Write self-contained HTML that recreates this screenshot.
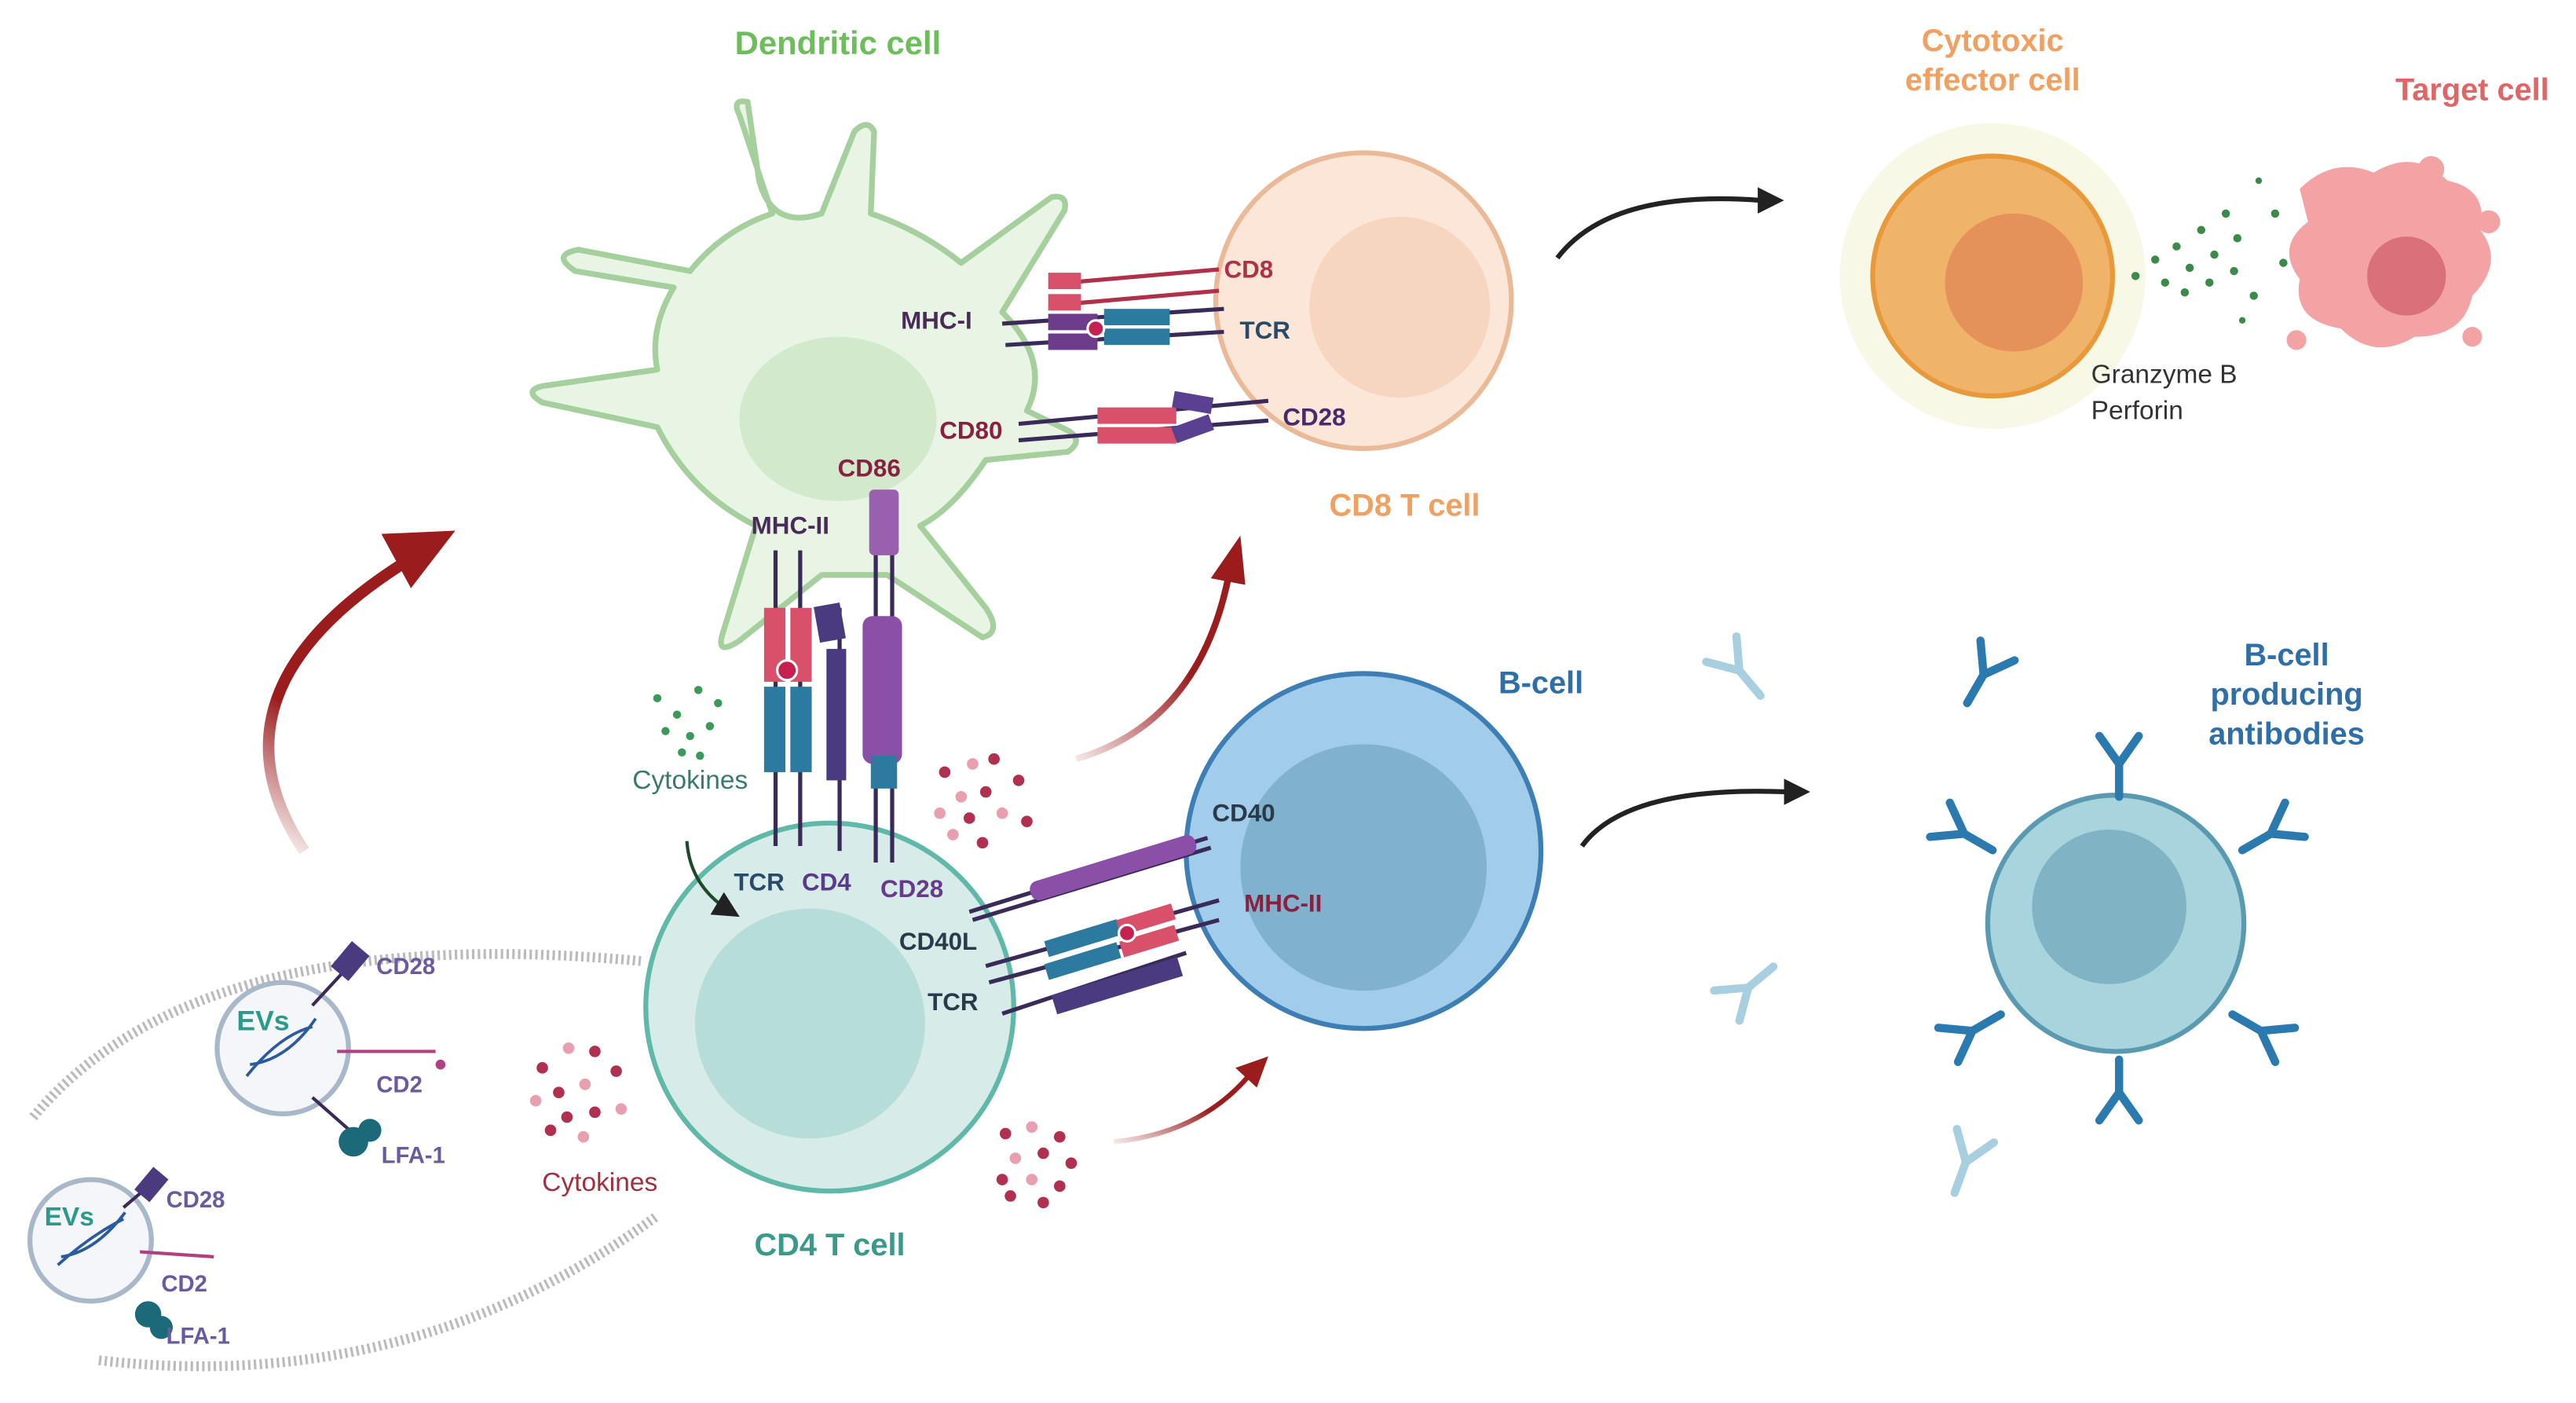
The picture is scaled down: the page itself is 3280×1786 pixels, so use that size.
<!DOCTYPE html>
<html><head><meta charset="utf-8"><style>
html,body{margin:0;padding:0;background:#fff;}
svg{display:block;}
text{font-family:"Liberation Sans",sans-serif;font-weight:bold;}
</style></head><body>
<svg width="3280" height="1786" viewBox="0 0 1568 854" xmlns="http://www.w3.org/2000/svg">
<defs>
<marker id="ab" markerWidth="8" markerHeight="8" refX="5" refY="4" orient="auto" markerUnits="strokeWidth"><path d="M0,0 L8,4 L0,8 Z" fill="#222"/></marker>
<marker id="ar" markerWidth="6" markerHeight="6" refX="3" refY="3" orient="auto" markerUnits="strokeWidth"><path d="M0,0 L6,3 L0,6 Z" fill="#9b1c1c"/></marker>
<linearGradient id="rg" x1="0" y1="1" x2="0.3" y2="0"><stop offset="0" stop-color="#9b1c1c" stop-opacity="0"/><stop offset="0.5" stop-color="#9b1c1c"/></linearGradient>
<linearGradient id="rg2" x1="0" y1="1" x2="1" y2="0"><stop offset="0" stop-color="#9b1c1c" stop-opacity="0.1"/><stop offset="0.6" stop-color="#9b1c1c"/></linearGradient>
</defs>

<!-- dotted arcs -->
<path d="M20,680 Q120,560 390,585" fill="none" stroke="#bbb" stroke-width="6" stroke-dasharray="1.5 2"/>
<path d="M60,828 Q250,850 400,740" fill="none" stroke="#bbb" stroke-width="6" stroke-dasharray="1.5 2"/>

<!-- Dendritic cell -->
<path d="M450,70 Q445,60 455,62 L462,110 Q470,140 500,130 L520,80 Q528,72 532,80 L530,130 Q560,140 585,160 L640,120 Q650,118 648,128 L610,190 Q640,220 625,250 L650,262 Q660,268 650,275 L600,280 Q580,310 560,320 L600,370 Q610,385 598,388 L540,350 L500,350 L450,390 Q435,400 440,385 L460,320 Q420,300 400,260 L330,245 Q318,238 330,235 L400,225 Q395,200 410,175 L350,165 Q335,155 352,152 L420,165 Q440,140 470,130 Z" fill="#e8f5e5" stroke="#a5cf9c" stroke-width="3.5" stroke-linejoin="round"/>
<ellipse cx="510" cy="255" rx="60" ry="50" fill="#d2eacb"/>
<text x="510" y="33" font-size="20" fill="#6dbd5c" text-anchor="middle">Dendritic cell</text>

<!-- CD8 T cell -->
<circle cx="830" cy="183" r="90" fill="#fce6d7" stroke="#eab998" stroke-width="3"/>
<circle cx="852" cy="187" r="55" fill="#f6d6c1"/>
<text x="855" y="314" font-size="19" fill="#f0a060" text-anchor="middle">CD8 T cell</text>

<!-- CD8/TCR/CD28 receptors -->
<g stroke-width="2.5">
<line x1="650" y1="172" x2="742" y2="164" stroke="#b0304a"/>
<line x1="650" y1="185" x2="742" y2="177" stroke="#b0304a"/>
<rect x="638" y="166" width="20" height="10" fill="#d9506a"/><rect x="638" y="179" width="20" height="10" fill="#d9506a"/>
<line x1="610" y1="197" x2="745" y2="188" stroke="#3a2a5a"/>
<line x1="612" y1="210" x2="745" y2="202" stroke="#3a2a5a"/>
<rect x="638" y="191" width="30" height="10" fill="#6d3d8c"/><rect x="638" y="203" width="30" height="10" fill="#6d3d8c"/>
<rect x="672" y="188" width="40" height="10" fill="#2c7aa0"/><rect x="672" y="200" width="40" height="10" fill="#2c7aa0"/>
<circle cx="667" cy="200" r="5" fill="#c62050" stroke="#fff" stroke-width="1.5"/>
<line x1="620" y1="258" x2="772" y2="244" stroke="#3a2a5a"/>
<line x1="620" y1="268" x2="772" y2="256" stroke="#3a2a5a"/>
<rect x="668" y="248" width="48" height="10" fill="#d9506a"/><rect x="668" y="260" width="48" height="10" fill="#d9506a"/>
<rect x="714" y="240" width="24" height="10" fill="#5a4090" transform="rotate(10 726 245)"/><rect x="714" y="256" width="24" height="10" fill="#5a4090" transform="rotate(-20 726 261)"/>
</g>
<text x="760" y="169" font-size="15" fill="#b0304a" text-anchor="middle">CD8</text>
<text x="770" y="206" font-size="15" fill="#2a4a6a" text-anchor="middle">TCR</text>
<text x="570" y="200" font-size="15" fill="#4a2a5a" text-anchor="middle">MHC-I</text>
<text x="591" y="267" font-size="15" fill="#8a2040" text-anchor="middle">CD80</text>
<text x="800" y="259" font-size="15" fill="#4a2a6a" text-anchor="middle">CD28</text>

<!-- Cytotoxic -->
<circle cx="1213" cy="168" r="93" fill="#f7f8e6"/>
<circle cx="1213" cy="168" r="73" fill="#f0b36a" stroke="#e89a3a" stroke-width="3"/>
<circle cx="1226" cy="172" r="42" fill="#e5915a"/>
<text x="1213" y="31" font-size="19" fill="#f0a060" text-anchor="middle">Cytotoxic</text>
<text x="1213" y="55" font-size="19" fill="#f0a060" text-anchor="middle">effector cell</text>
<text x="1273" y="233" font-size="16" fill="#333" style="font-weight:normal">Granzyme B</text>
<text x="1273" y="255" font-size="16" fill="#333" style="font-weight:normal">Perforin</text>
<g fill="#3a8a4a">
<circle cx="1300" cy="168" r="2.5"/><circle cx="1312" cy="158" r="2.5"/><circle cx="1325" cy="150" r="2.5"/><circle cx="1340" cy="140" r="2.5"/><circle cx="1355" cy="130" r="2.5"/><circle cx="1318" cy="172" r="2.5"/><circle cx="1333" cy="163" r="2.5"/><circle cx="1348" cy="155" r="2.5"/><circle cx="1362" cy="145" r="2.5"/><circle cx="1330" cy="178" r="2.5"/><circle cx="1345" cy="172" r="2.5"/><circle cx="1360" cy="165" r="2.5"/><circle cx="1372" cy="180" r="2.5"/><circle cx="1385" cy="130" r="2.5"/><circle cx="1390" cy="160" r="2.5"/><circle cx="1375" cy="110" r="2"/><circle cx="1365" cy="195" r="2"/>
</g>
<!-- target cell -->
<path d="M1400,115 Q1420,95 1445,105 Q1470,90 1490,110 Q1515,115 1510,140 Q1525,160 1505,180 Q1500,205 1470,205 Q1445,220 1425,200 Q1395,195 1400,170 Q1385,150 1405,135 Z" fill="#f3a3a3"/>
<circle cx="1465" cy="168" r="24" fill="#d9707a"/>
<circle cx="1398" cy="207" r="6" fill="#f3a3a3"/><circle cx="1515" cy="135" r="7" fill="#f3a3a3"/><circle cx="1505" cy="205" r="6" fill="#f3a3a3"/><circle cx="1480" cy="103" r="8" fill="#f3a3a3"/>
<text x="1505" y="61" font-size="19" fill="#e06565" text-anchor="middle">Target cell</text>

<!-- B-cell -->
<circle cx="830" cy="518" r="108" fill="#a2cdea" stroke="#3d7fb5" stroke-width="3"/>
<circle cx="830" cy="528" r="75" fill="#80b1cd"/>
<text x="938" y="422" font-size="19" fill="#2f6fa8" text-anchor="middle">B-cell</text>

<!-- CD4 T cell -->
<circle cx="505" cy="613" r="112" fill="#d7ece8" stroke="#5fb8a8" stroke-width="3"/>
<circle cx="493" cy="623" r="70" fill="#b6ddd7"/>
<text x="505" y="764" font-size="19" fill="#3a9a8a" text-anchor="middle">CD4 T cell</text>

<!-- vertical receptors DC-CD4 -->
<g stroke="#3a2a5a" stroke-width="2.5">
<line x1="472" y1="335" x2="472" y2="515"/><line x1="487" y1="335" x2="487" y2="515"/>
<line x1="511" y1="370" x2="511" y2="518"/>
<line x1="533" y1="300" x2="533" y2="525"/><line x1="543" y1="300" x2="543" y2="525"/>
</g>
<rect x="465" y="370" width="13" height="45" fill="#d9506a"/><rect x="481" y="370" width="13" height="45" fill="#d9506a"/>
<rect x="465" y="418" width="13" height="52" fill="#2c7aa0"/><rect x="481" y="418" width="13" height="52" fill="#2c7aa0"/>
<circle cx="479" cy="408" r="6" fill="#c62050" stroke="#fff" stroke-width="1.5"/>
<rect x="497" y="368" width="16" height="22" fill="#4a3a80" transform="rotate(-10 505 379)"/><rect x="503" y="395" width="12" height="80" fill="#4a3a80"/>
<rect x="529" y="298" width="18" height="40" fill="#9a60b0" rx="3"/>
<rect x="525" y="375" width="24" height="90" fill="#8a50a8" rx="6"/>
<rect x="530" y="460" width="16" height="20" fill="#2c7aa0"/>
<text x="529" y="290" font-size="15" fill="#8a2040" text-anchor="middle">CD86</text>
<text x="481" y="325" font-size="15" fill="#4a2a5a" text-anchor="middle">MHC-II</text>
<text x="462" y="542" font-size="15" fill="#2a4a6a" text-anchor="middle">TCR</text>
<text x="503" y="542" font-size="15" fill="#5a3a8a" text-anchor="middle">CD4</text>
<text x="555" y="546" font-size="15" fill="#6a3a8a" text-anchor="middle">CD28</text>

<!-- CD4-B receptors -->
<g stroke="#3a2a5a" stroke-width="2.5">
<line x1="590" y1="555" x2="735" y2="510"/><line x1="592" y1="560" x2="737" y2="516"/>
<line x1="600" y1="588" x2="742" y2="548"/><line x1="602" y1="598" x2="742" y2="560"/>
<line x1="610" y1="617" x2="722" y2="580"/>
</g>
<rect x="625" y="522" width="105" height="12" fill="#8a50a8" rx="5" transform="rotate(-17 678 528)"/>
<rect x="636" y="566" width="46" height="10" fill="#2c7aa0" transform="rotate(-17 659 571)"/><rect x="636" y="580" width="46" height="10" fill="#2c7aa0" transform="rotate(-17 659 585)"/>
<rect x="680" y="555" width="35" height="10" fill="#d9506a" transform="rotate(-17 697 560)"/><rect x="682" y="568" width="35" height="10" fill="#d9506a" transform="rotate(-17 699 573)"/>
<circle cx="686" cy="568" r="5" fill="#c62050" stroke="#fff" stroke-width="1.5"/>
<rect x="640" y="594" width="80" height="12" fill="#4a3a80" transform="rotate(-17 680 600)"/>
<text x="757" y="500" font-size="15" fill="#2a3a4a" text-anchor="middle">CD40</text>
<text x="781" y="555" font-size="15" fill="#8a2040" text-anchor="middle">MHC-II</text>
<text x="571" y="578" font-size="15" fill="#2a3a4a" text-anchor="middle">CD40L</text>
<text x="580" y="615" font-size="15" fill="#2a3a4a" text-anchor="middle">TCR</text>

<!-- cytokines -->
<g fill="#3a9a5a"><circle cx="400" cy="425" r="2.5"/><circle cx="412" cy="435" r="2.5"/><circle cx="425" cy="420" r="2.5"/><circle cx="437" cy="428" r="2.5"/><circle cx="405" cy="445" r="2.5"/><circle cx="420" cy="448" r="2.5"/><circle cx="432" cy="442" r="2.5"/><circle cx="415" cy="458" r="2.5"/><circle cx="426" cy="460" r="2.5"/></g>
<text x="420" y="480" font-size="16" fill="#3a7a6a" text-anchor="middle" style="font-weight:normal">Cytokines</text>
<path d="M418,512 Q420,540 445,555" fill="none" stroke="#1f4a2a" stroke-width="2" marker-end="url(#ab)"/>
<g fill="#b03050"><circle cx="575" cy="470" r="3.5"/><circle cx="592" cy="465" r="3.5" fill="#e8a0b0"/><circle cx="605" cy="462" r="3.5"/><circle cx="620" cy="475" r="3.5"/><circle cx="585" cy="485" r="3.5" fill="#e8a0b0"/><circle cx="600" cy="482" r="3.5"/><circle cx="572" cy="495" r="3.5" fill="#e8a0b0"/><circle cx="590" cy="498" r="3.5"/><circle cx="610" cy="495" r="3.5" fill="#e8a0b0"/><circle cx="625" cy="500" r="3.5"/><circle cx="598" cy="513" r="3.5"/><circle cx="580" cy="508" r="3.5" fill="#e8a0b0"/></g>
<g fill="#b03050"><circle cx="330" cy="650" r="3.5"/><circle cx="346" cy="638" r="3.5" fill="#e8a0b0"/><circle cx="362" cy="640" r="3.5"/><circle cx="375" cy="652" r="3.5"/><circle cx="340" cy="665" r="3.5"/><circle cx="356" cy="660" r="3.5" fill="#e8a0b0"/><circle cx="326" cy="670" r="3.5" fill="#e8a0b0"/><circle cx="345" cy="680" r="3.5"/><circle cx="362" cy="677" r="3.5"/><circle cx="378" cy="675" r="3.5" fill="#e8a0b0"/><circle cx="335" cy="688" r="3.5"/><circle cx="355" cy="692" r="3.5" fill="#e8a0b0"/></g>
<text x="365" y="725" font-size="16" fill="#a03040" text-anchor="middle" style="font-weight:normal">Cytokines</text>
<g fill="#b03050"><circle cx="612" cy="690" r="3.5"/><circle cx="628" cy="686" r="3.5" fill="#e8a0b0"/><circle cx="645" cy="692" r="3.5"/><circle cx="618" cy="705" r="3.5" fill="#e8a0b0"/><circle cx="635" cy="702" r="3.5"/><circle cx="652" cy="708" r="3.5"/><circle cx="610" cy="718" r="3.5"/><circle cx="628" cy="718" r="3.5" fill="#e8a0b0"/><circle cx="645" cy="722" r="3.5"/><circle cx="615" cy="728" r="3.5"/><circle cx="635" cy="732" r="3.5"/></g>

<!-- arrows -->
<path d="M185,518 Q120,420 250,340" fill="none" stroke="url(#rg)" stroke-width="7"/>
<path d="M232,325 L277,323 L250,358 Z" fill="#9b1c1c"/>
<path d="M655,462 Q730,440 748,350" fill="none" stroke="url(#rg2)" stroke-width="4"/>
<path d="M737,352 L755,326 L758,356 Z" fill="#9b1c1c"/>
<path d="M678,695 Q730,690 760,655" fill="none" stroke="url(#rg2)" stroke-width="3"/>
<path d="M752,650 L772,643 L765,662 Z" fill="#9b1c1c"/>
<path d="M948,157 Q980,115 1072,122" fill="none" stroke="#222" stroke-width="3"/>
<path d="M1070,114 L1086,122 L1070,130 Z" fill="#222"/>
<path d="M963,515 Q990,478 1088,482" fill="none" stroke="#222" stroke-width="3"/>
<path d="M1086,474 L1102,482 L1086,490 Z" fill="#222"/>

<!-- EVs -->
<g>
<circle cx="172" cy="638" r="40" fill="#f4f6fa" stroke="#a8b8c8" stroke-width="3"/>
<path d="M150,655 Q170,630 190,625 M152,648 Q175,645 192,620" stroke="#2a5aa0" stroke-width="1.8" fill="none"/>
<text x="160" y="627" font-size="17" fill="#2a9a8a" text-anchor="middle">EVs</text>
<line x1="190" y1="612" x2="215" y2="585" stroke="#3a2a5a" stroke-width="2"/><rect x="206" y="575" width="14" height="20" fill="#4a3a80" transform="rotate(40 213 585)"/>
<line x1="205" y1="640" x2="265" y2="640" stroke="#b04080" stroke-width="2"/><circle cx="268" cy="648" r="3" fill="#b04080"/>
<line x1="190" y1="668" x2="215" y2="690" stroke="#3a2a5a" stroke-width="2"/><circle cx="215" cy="695" r="9" fill="#1a6a7a"/><circle cx="225" cy="688" r="7" fill="#1a6a7a"/>
<text x="229" y="593" font-size="14" fill="#6a5aa0">CD28</text>
<text x="229" y="665" font-size="14" fill="#6a5aa0">CD2</text>
<text x="232" y="708" font-size="14" fill="#6a5aa0">LFA-1</text>
<circle cx="55" cy="755" r="37" fill="#f4f6fa" stroke="#a8b8c8" stroke-width="3"/>
<path d="M35,770 Q55,752 75,742 M37,765 Q58,762 76,738" stroke="#2a5aa0" stroke-width="1.8" fill="none"/>
<text x="42" y="746" font-size="16" fill="#2a9a8a" text-anchor="middle">EVs</text>
<line x1="75" y1="735" x2="95" y2="718" stroke="#3a2a5a" stroke-width="2"/><rect x="86" y="712" width="12" height="18" fill="#4a3a80" transform="rotate(40 92 721)"/>
<line x1="85" y1="762" x2="130" y2="765" stroke="#b04080" stroke-width="2"/>
<circle cx="90" cy="800" r="8" fill="#1a6a7a"/><circle cx="98" cy="808" r="7" fill="#1a6a7a"/>
<text x="101" y="735" font-size="14" fill="#6a5aa0">CD28</text>
<text x="98" y="786" font-size="14" fill="#6a5aa0">CD2</text>
<text x="101" y="818" font-size="14" fill="#6a5aa0">LFA-1</text>
</g>

<!-- antibody cell -->
<circle cx="1288" cy="562" r="78" fill="#a8d4dd" stroke="#5a9ab0" stroke-width="3"/>
<circle cx="1284" cy="552" r="47" fill="#80b4c4"/>
<g stroke="#2a7ab0" stroke-width="5" fill="none" stroke-linecap="round">
<g transform="translate(1290,470)"><path d="M0,15 V-5 L-12,-22 M0,-5 L12,-22"/></g>
<g transform="translate(1290,660) rotate(180)"><path d="M0,15 V-5 L-12,-22 M0,-5 L12,-22"/></g>
<g transform="translate(1200,510) rotate(-60)"><path d="M0,15 V-5 L-12,-22 M0,-5 L12,-22"/></g>
<g transform="translate(1378,510) rotate(60)"><path d="M0,15 V-5 L-12,-22 M0,-5 L12,-22"/></g>
<g transform="translate(1205,625) rotate(-120)"><path d="M0,15 V-5 L-12,-22 M0,-5 L12,-22"/></g>
<g transform="translate(1372,625) rotate(120)"><path d="M0,15 V-5 L-12,-22 M0,-5 L12,-22"/></g>
<g transform="translate(1205,415) rotate(30)"><path d="M0,15 V-5 L-12,-22 M0,-5 L12,-22"/></g>
</g>
<g stroke="#a8cfe0" stroke-width="5" fill="none" stroke-linecap="round">
<g transform="translate(1062,412) rotate(-40)"><path d="M0,15 V-5 L-12,-22 M0,-5 L12,-22"/></g>
<g transform="translate(1068,598) rotate(-130)"><path d="M0,15 V-5 L-12,-22 M0,-5 L12,-22"/></g>
<g transform="translate(1195,712) rotate(20)"><path d="M0,15 V-5 L-12,-22 M0,-5 L12,-22"/></g>
</g>
<text x="1392" y="405" font-size="19" fill="#2f6fa8" text-anchor="middle">B-cell</text>
<text x="1392" y="429" font-size="19" fill="#2f6fa8" text-anchor="middle">producing</text>
<text x="1392" y="453" font-size="19" fill="#2f6fa8" text-anchor="middle">antibodies</text>
</svg>
</body></html>
